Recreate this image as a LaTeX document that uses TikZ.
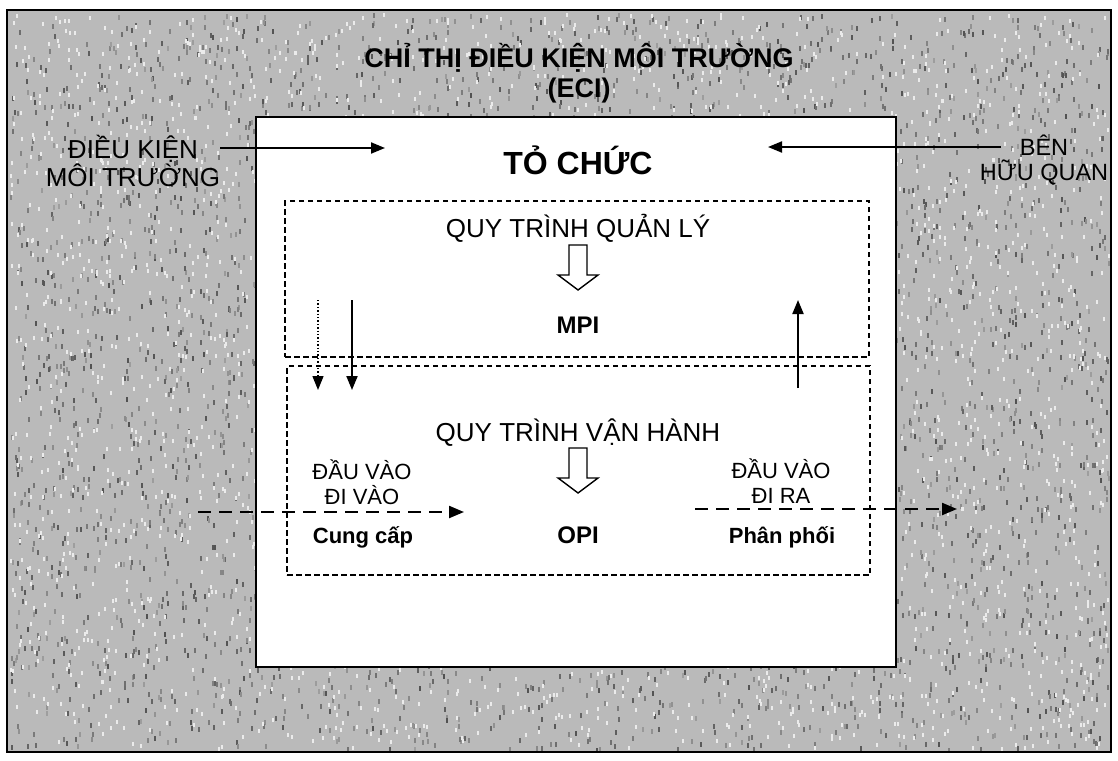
\documentclass[tikz,border=0pt]{standalone}
\usepackage{fontspec}
\setmainfont{Liberation Sans}
\usetikzlibrary{arrows.meta,calc}
\tikzset{
  lbl/.style={inner sep=0pt, align=center, text=black},
  big/.style={lbl, font=\fontsize{26}{25}\selectfont},
  bigb/.style={lbl, font=\bfseries\fontsize{24}{30}\selectfont},
  small/.style={lbl, font=\fontsize{22}{25}\selectfont},
  smallb/.style={lbl, font=\bfseries\fontsize{22}{25}\selectfont},
  dbox/.style={draw, line width=1.9pt, dash pattern=on 5.5pt off 3.5pt, inner sep=0pt},
  solidarr/.style={line width=2pt, -{Triangle[length=14pt,width=11pt]}},
  dotarr/.style={line width=1.4pt, dotted, -{Triangle[length=14pt,width=11pt]}},
  dasharr/.style={line width=2.2pt, dash pattern=on 13pt off 8pt, -{Triangle[length=15pt,width=12pt]}},
  hollow/.pic={\draw[line width=1.4pt, fill=white, line join=miter]
     (-9,0) -- (9,0) -- (9,30) -- (20,30) -- (0,45) -- (-20,30) -- (-9,30) -- cycle;}
}
\begin{document}
\begin{tikzpicture}[x=1pt,y=-1pt]
\useasboundingbox (0,0) rectangle (1118,760);
% background with texture
\fill[black!27] (7,10) rectangle (1111,752);
\pgfmathsetseed{11}
\foreach \i in {1,...,4200}{
  \pgfmathsetmacro{\xx}{10+1098*rnd}
  \pgfmathsetmacro{\yy}{13+735*rnd}
  \pgfmathsetmacro{\gg}{38+30*rnd}
  \fill[black!\gg] (\xx,\yy) rectangle ++(2,5);
}
\foreach \i in {1,...,3000}{
  \pgfmathsetmacro{\xx}{10+1098*rnd}
  \pgfmathsetmacro{\yy}{13+735*rnd}
  \fill[black!8] (\xx,\yy) rectangle ++(2,4);
}
\draw[line width=2pt] (7,10) rectangle (1111,752);

% organisation box
\node[draw, fill=white, line width=2.3pt, minimum width=640pt, minimum height=550pt, inner sep=0pt] (org) at (576,392) {};

% dashed boxes
\node[dbox, minimum width=584pt, minimum height=156pt] (mgmt) at (577,279) {};
\node[dbox, minimum width=583pt, minimum height=209pt] (oper) at (578.5,470.5) {};

% titles
\node[lbl, font=\bfseries\fontsize{27}{30}\selectfont] (eci) at (579,73) {CHỈ THỊ ĐIỀU KIỆN MÔI TRƯỜNG\\(ECI)};
\node[lbl, font=\bfseries\fontsize{32}{34}\selectfont] (tc) at (578,160) {TỎ CHỨC};
\node[big] (dk) at (133,161) {ĐIỀU KIỆN\\MÔI TRƯỜNG};
\node[lbl, font=\fontsize{23.5}{25}\selectfont] (ben) at (1044,160) {BÊN\\HỮU QUAN};

\coordinate (a1) at (385,148);
\draw[solidarr] (dk.east |- a1) -- (a1);
\coordinate (b0) at (1001,147);
\coordinate (b1) at (768,147);
\draw[solidarr] (b0) -- (b1);

% management process
\node[big] (qtql) at (578,228) {QUY TRÌNH QUẢN LÝ};
\pic (h1) at (578,245) {hollow};
\node[bigb] (mpi) at (578,325) {MPI};

\coordinate (d0) at (318,300); \coordinate (d1) at (318,390);
\draw[dotarr] (d0) -- (d1);
\coordinate (s0) at (352,300); \coordinate (s1) at (352,390);
\draw[solidarr] (s0) -- (s1);
\coordinate (u0) at (798,388); \coordinate (u1) at (798,300);
\draw[solidarr] (u0) -- (u1);

% operating process
\node[big] (qtvh) at (578,433) {QUY TRÌNH VẬN HÀNH};
\pic (h2) at (578,448) {hollow};
\node[bigb] (opi) at (578,535) {OPI};

\node[small] (dvv) at (362,482) {ĐẦU VÀO\\ĐI VÀO};
\node[smallb] (cc) at (363,537) {Cung cấp};
\node[small] (dvr) at (781,481) {ĐẦU VÀO\\ĐI RA};
\node[smallb] (pp) at (782,537) {Phân phối};

\coordinate (i0) at (198,512); \coordinate (i1) at (464,512);
\draw[dasharr] (i0) -- (i1);
\coordinate (o0) at (695,509); \coordinate (o1) at (957,509);
\draw[dasharr] (o0) -- (o1);
\end{tikzpicture}
\end{document}
